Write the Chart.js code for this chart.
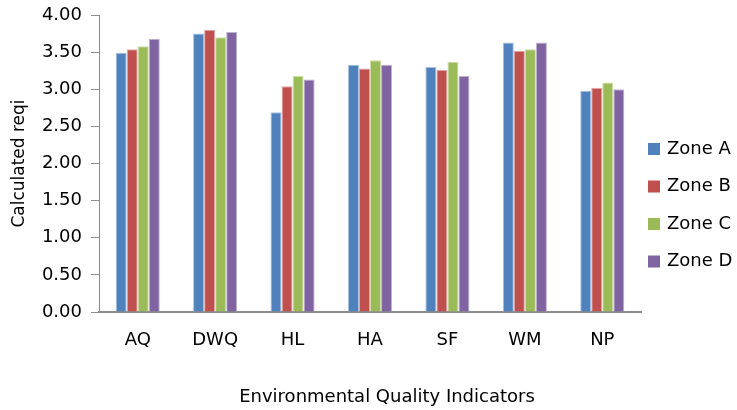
<!DOCTYPE html>
<html>
<head>
<meta charset="utf-8">
<script src="https://cdn.jsdelivr.net/npm/chart.js@4/dist/chart.umd.min.js"></script>
<style>
  html, body { margin: 0; padding: 0; background: #fff; }
  #wrap { width: 737px; height: 410px; }
</style>
</head>
<body>
<div id="wrap"><canvas id="c" width="737" height="410"></canvas></div>
<script>
// Indicators on the x axis
const indicators = ["AQ", "DWQ", "HL", "HA", "SF", "WM", "NP"];

// Calculated reqi per zone
const zoneA = [3.49, 3.75, 2.69, 3.33, 3.30, 3.63, 2.98];
const zoneB = [3.54, 3.80, 3.04, 3.28, 3.26, 3.52, 3.02];
const zoneC = [3.58, 3.70, 3.18, 3.39, 3.37, 3.54, 3.09];
const zoneD = [3.68, 3.77, 3.13, 3.33, 3.18, 3.63, 3.00];

const zoneNames = ["Zone A", "Zone B", "Zone C", "Zone D"];
const yTicks = [0, 0.5, 1, 1.5, 2, 2.5, 3, 3.5, 4];

const colors = ["#4F81BD", "#C0504D", "#9BBB59", "#8064A2"];
const edges  = ["#A7C0DE", "#DFA8A6", "#CDDDAC", "#BFB1D0"];

const FONT = "'DejaVu Sans', Verdana, sans-serif";
const TEXT = "#000000";

// Legend on the right and the x-axis caption, painted after the chart
const sideLegend = {
  id: "sideLegend",
  afterDraw(chart) {
    const ctx = chart.ctx;
    const area = chart.chartArea;
    ctx.save();
    ctx.font = "18px " + FONT;
    ctx.textBaseline = "middle";
    ctx.textAlign = "left";
    chart.data.datasets.forEach((ds, i) => {
      const y = 149 + i * 37.5;
      ctx.fillStyle = ds.backgroundColor;
      ctx.fillRect(648, y - 6, 12, 12);
      ctx.fillStyle = TEXT;
      ctx.fillText(ds.label, 667, y);
    });
    ctx.font = "18px " + FONT;
    ctx.textAlign = "center";
    ctx.fillText("Environmental Quality Indicators", (area.left + area.right) / 2 + 17, 397);
    ctx.restore();
  }
};

const series = [zoneA, zoneB, zoneC, zoneD];

new Chart(document.getElementById("c"), {
  type: "bar",
  data: {
    labels: indicators,
    datasets: series.map((vals, i) => ({
      label: zoneNames[i],
      data: vals,
      backgroundColor: colors[i],
      borderColor: edges[i],
      borderWidth: 1,
      barPercentage: 1.0,
      categoryPercentage: 0.57
    }))
  },
  options: {
    responsive: false,
    animation: false,
    devicePixelRatio: 1,
    layout: { padding: { top: 15, right: 96, bottom: 0, left: 0 } },
    plugins: {
      legend: { display: false },
      tooltip: { enabled: false }
    },
    scales: {
      x: {
        grid: { display: false },
        border: { display: true, color: "#8C8C8C", width: 2 },
        ticks: { color: TEXT, font: { family: FONT, size: 18 }, padding: 10, maxRotation: 0 },
        afterFit(scale) { scale.height = 98; }
      },
      y: {
        min: 0,
        max: 4,
        afterBuildTicks(scale) { scale.ticks = yTicks.map(v => ({ value: v })); },
        grid: { display: true, drawOnChartArea: false, drawTicks: true, tickLength: 8, color: "#8C8C8C" },
        border: { display: true, color: "#8C8C8C", width: 1 },
        ticks: {
          color: TEXT,
          font: { family: FONT, size: 18 },
          padding: 9,
          callback: v => Number(v).toFixed(2)
        },
        title: {
          display: true,
          text: "Calculated reqi",
          color: TEXT,
          font: { family: FONT, size: 17 },
          padding: { top: 9, bottom: 0 }
        },
        afterFit(scale) {
          scale.width = 99;
          scale.paddingTop = 0;
          scale.paddingBottom = 0;
        }
      }
    }
  },
  plugins: [sideLegend]
});
</script>
</body>
</html>
